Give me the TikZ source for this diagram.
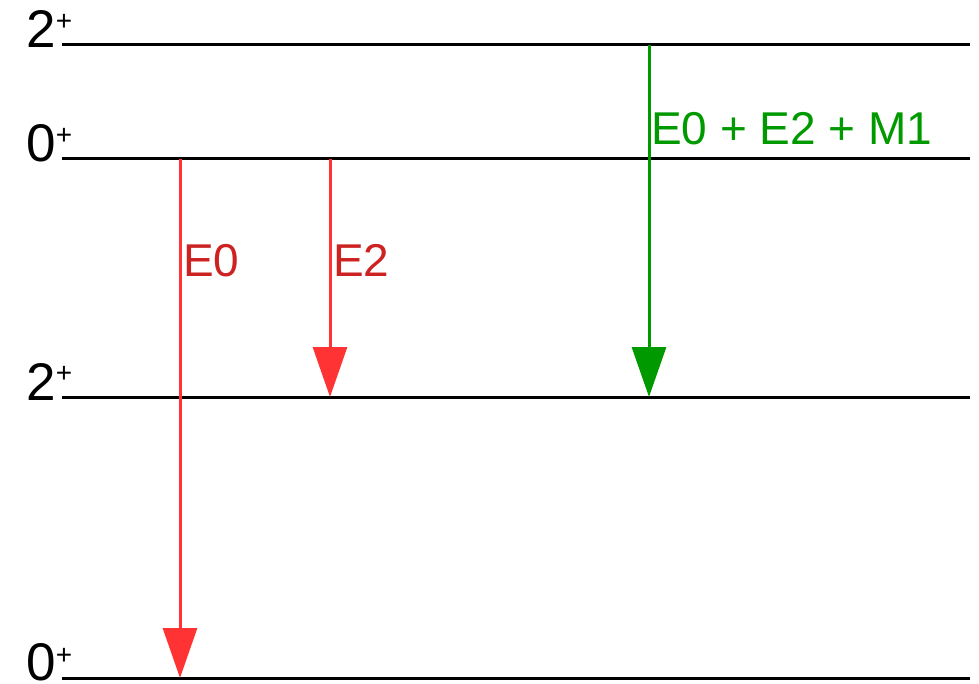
\documentclass[tikz,border=0pt]{standalone}
\usepackage{fontspec}
\setmainfont{Liberation Sans}
\usetikzlibrary{arrows.meta}
\definecolor{arrred}{HTML}{FF3333}
\definecolor{txtred}{HTML}{CC2222}
\definecolor{arrgreen}{HTML}{009900}
\begin{document}
\begin{tikzpicture}[x=1pt,y=-1pt,
  levelline/.style={line width=3pt,black},
  spin/.style={anchor=base east,inner sep=0pt,font=\fontsize{53}{60}\selectfont},
  parity/.style={anchor=center,inner sep=0pt,font=\fontsize{28}{32}\selectfont},
  trans/.style={line width=3pt,-{Triangle[length=50pt,width=34pt]}},
  translabel/.style={anchor=base west,inner sep=0pt,font=\fontsize{46}{55}\selectfont}]
\useasboundingbox (0,0) rectangle (979,684);
% levels
\coordinate (a1) at (62,45);  \coordinate (b1) at (970,45);
\coordinate (a2) at (62,159); \coordinate (b2) at (970,159);
\coordinate (a3) at (62,397); \coordinate (b3) at (970,397);
\coordinate (a4) at (62,678); \coordinate (b4) at (970,678);
\draw[levelline] (a1) -- (b1);
\draw[levelline] (a2) -- (b2);
\draw[levelline] (a3) -- (b3);
\draw[levelline] (a4) -- (b4);
% level labels
\node[spin] (s1) at (56,48) {2};   \node[parity] (p1) at (64,22) {+};
\node[spin] (s2) at (56,162) {0};  \node[parity] (p2) at (64,136) {+};
\node[spin] (s3) at (56,400) {2};  \node[parity] (p3) at (64,374) {+};
\node[spin] (s4) at (56,680) {0};  \node[parity] (p4) at (64,656) {+};
% transitions
\coordinate (e0s) at (180,159); \coordinate (e0e) at (180,678);
\coordinate (e2s) at (330,159); \coordinate (e2e) at (330,397);
\coordinate (gs) at (649,45);   \coordinate (ge) at (649,397);
\draw[trans,arrred] (e0s) -- (e0e);
\draw[trans,arrred] (e2s) -- (e2e);
\draw[trans,arrgreen] (gs) -- (ge);
\node[translabel,txtred] (le0) at (183,277) {E0};
\node[translabel,txtred] (le2) at (333,277) {E2};
\node[translabel,arrgreen] (lg) at (651,145) {E0 + E2 + M1};
\end{tikzpicture}
\end{document}
